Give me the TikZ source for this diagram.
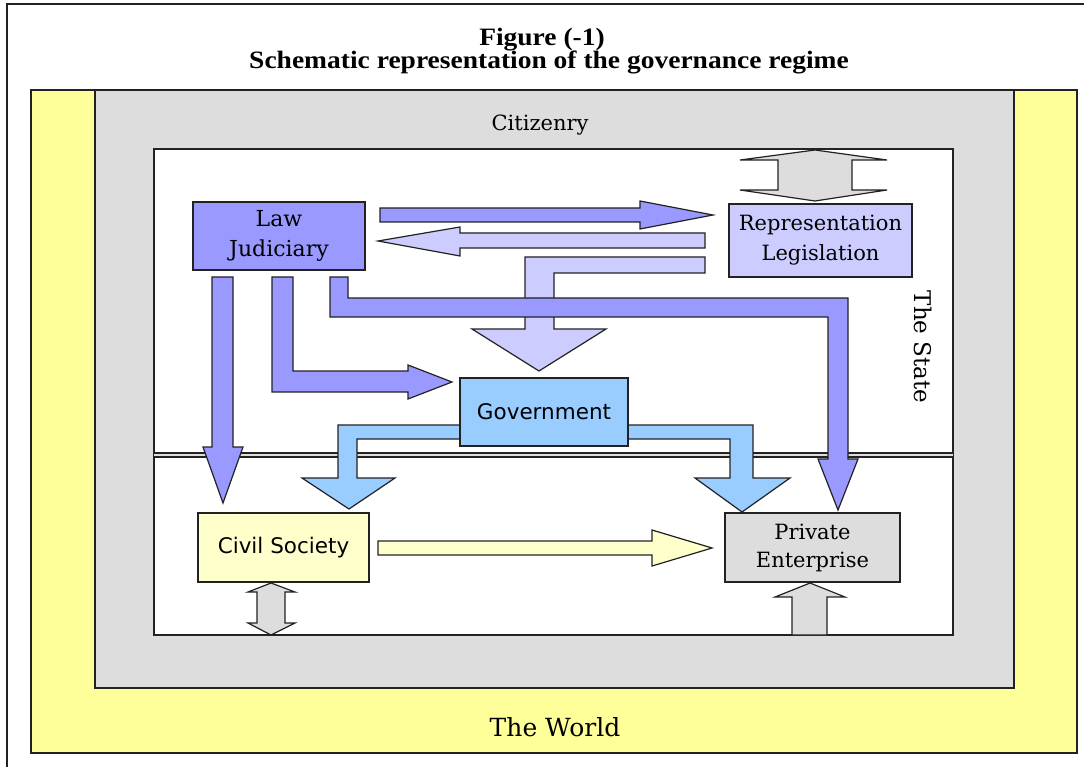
\documentclass[tikz,border=0pt]{standalone}
\usepackage{fontspec}
\newfontfamily\dvserif{DejaVu Serif}
\newfontfamily\dvsans{DejaVu Sans}
\newfontfamily\ttlfont{Liberation Serif}
\definecolor{yellowc}{HTML}{FFFF99}
\definecolor{grayc}{HTML}{DDDDDD}
\definecolor{lawc}{HTML}{9999FF}
\definecolor{repc}{HTML}{CCCCFF}
\definecolor{govc}{HTML}{99CCFF}
\definecolor{civc}{HTML}{FFFFCC}
\definecolor{privc}{HTML}{DDDDDD}
\definecolor{linec}{HTML}{222222}
\begin{document}
\begin{tikzpicture}[x=1pt,y=-1pt,
  frame/.style={draw=linec, line width=1.8pt},
  box/.style={draw=linec, line width=1.6pt, inner sep=0pt, align=center},
  arr/.style={draw=linec, line width=1.2pt, line join=miter},
  sertext/.style={font=\dvserif\fontsize{21}{30}\selectfont},
  santext/.style={font=\dvsans\fontsize{21.5}{24}\selectfont},
  ttl/.style={font=\ttlfont\bfseries\fontsize{25}{25}\selectfont, anchor=base}
]
\useasboundingbox (0,0) rectangle (1084,767);
\fill[white] (0,0) rectangle (1084,767);
% outer frame
\draw[line width=1.5pt, linec] (7,767) -- (7,4) -- (1084,4);
% title
\node[ttl] (t1) at (542,46) {\scalebox{1.1}[1]{Figure (-1)}};
\node[ttl] (t2) at (549,69) {\scalebox{1.1}[1]{Schematic representation of the governance regime}};
% world / citizenry / state areas
\draw[frame, fill=yellowc] (31,90) rectangle (1077,753);
\draw[frame, fill=grayc] (95,90) rectangle (1014,688);
\draw[linec, line width=2.6pt] (95,90) -- (1014,90);
\draw[frame, fill=white] (154,149) rectangle (953,635);
% divider
\fill[grayc] (154,453) rectangle (953,457);
\draw[linec, line width=1.2pt] (154,453) -- (953,453) (154,457) -- (953,457);
% labels of areas
\node[font=\dvserif\fontsize{21}{24}\selectfont] (citz) at (540,125) {Citizenry};
\node[font=\dvserif\fontsize{25}{26}\selectfont] (world) at (555,727) {The World};
\node[font=\dvserif\fontsize{23}{24}\selectfont, rotate=-90] (state) at (923,347) {The State};

% boxes
\node[box, fill=lawc, minimum width=172pt, minimum height=68pt, font=\dvserif\fontsize{22}{30}\selectfont] (law) at (279,236) {Law\\Judiciary};
\node[box, fill=repc, minimum width=183pt, minimum height=73pt, font=\dvserif\fontsize{21}{30}\selectfont] (rep) at (820.5,240.5) {Representation\\Legislation};
\node[box, fill=govc, minimum width=168pt, minimum height=68pt, santext] (gov) at (544,412) {Government};
\node[box, fill=civc, minimum width=171pt, minimum height=69pt, santext] (civ) at (283.5,547.5) {Civil Society};
\node[box, fill=privc, minimum width=175pt, minimum height=69pt, font=\dvserif\fontsize{21}{28}\selectfont] (priv) at (812.5,547.5) {Private\\Enterprise};

% top double arrow (citizenry <-> representation)
\draw[arr, fill=grayc] (815,150) -- (887,160) -- (852,160) -- (852,190) -- (887,190) -- (815,201)
  -- (740,190) -- (778,190) -- (778,160) -- (740,160) -- cycle;
% civil society double arrow
\draw[arr, fill=grayc] (271,583) -- (295,592) -- (285,592) -- (285,623) -- (295,623) -- (271,635)
  -- (248,623) -- (257,623) -- (257,592) -- (248,592) -- cycle;
% private enterprise up arrow
\draw[arr, fill=grayc] (810,583) -- (845,597) -- (827,597) -- (827,635) -- (792,635) -- (792,597)
  -- (775,597) -- cycle;

% Law -> Representation
\draw[arr, fill=lawc] (380,208) -- (640,208) -- (640,201) -- (713,215) -- (640,229) -- (640,222)
  -- (380,222) -- cycle;
% Representation -> Law
\draw[arr, fill=repc] (705,233) -- (705,248) -- (460,248) -- (460,256) -- (378,241) -- (460,227)
  -- (460,233) -- cycle;
% Representation -> Government
\draw[arr, fill=repc] (705,257) -- (705,273) -- (554,273) -- (554,329) -- (606,329) -- (539,371)
  -- (472,329) -- (525,329) -- (525,257) -- cycle;
% Law -> Civil Society
\draw[arr, fill=lawc] (212,277) -- (233,277) -- (233,447) -- (243,447) -- (223,503) -- (203,447)
  -- (212,447) -- cycle;
% Law -> Government
\draw[arr, fill=lawc] (272,277) -- (293,277) -- (293,371) -- (408,371) -- (408,365) -- (452,382)
  -- (408,399) -- (408,392) -- (272,392) -- cycle;
% Law -> Private Enterprise
\draw[arr, fill=lawc] (330,277) -- (348,277) -- (348,298) -- (848,298) -- (848,459) -- (858,459)
  -- (838,510) -- (818,459) -- (828,459) -- (828,317) -- (330,317) -- cycle;
% Government -> Civil Society
\draw[arr, fill=govc] (460,425) -- (460,439) -- (357,439) -- (357,478) -- (395,478) -- (349,509)
  -- (302,478) -- (338,478) -- (338,425) -- cycle;
% Government -> Private Enterprise
\draw[arr, fill=govc] (628,425) -- (753,425) -- (753,478) -- (790,478) -- (742,512) -- (695,478)
  -- (730,478) -- (730,439) -- (628,439) -- cycle;
% Civil Society -> Private Enterprise
\draw[arr, fill=civc] (378,541) -- (652,541) -- (652,530) -- (712,548) -- (652,566) -- (652,555)
  -- (378,555) -- cycle;

% redraw government box on top of its arrow stubs
\node[box, fill=govc, minimum width=168pt, minimum height=68pt, santext] at (gov) {Government};
\end{tikzpicture}
\end{document}
